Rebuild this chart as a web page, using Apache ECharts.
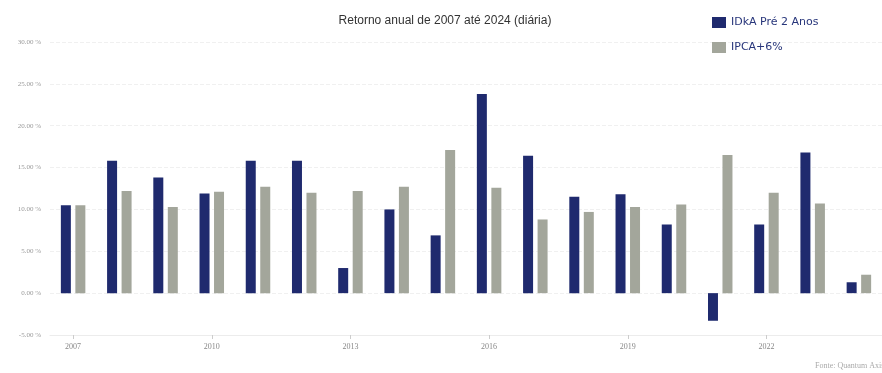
<!DOCTYPE html>
<html>
<head>
<meta charset="utf-8">
<script src="https://cdn.jsdelivr.net/npm/echarts@6/dist/echarts.min.js"></script>
<style>
  html, body { margin: 0; padding: 0; background: #fff; }
  #chart { width: 882px; height: 373px; }
</style>
</head>
<body>
<div id="chart"></div>
<script>
const years = ['2007', '2008', '2009', '2010', '2011', '2012', '2013', '2014', '2015',
  '2016', '2017', '2018', '2019', '2020', '2021', '2022', '2023', '2024']
const idka = [10.5, 15.8, 13.8, 11.9, 15.8, 15.8, 3.0, 10.0, 6.9,
  23.8, 16.4, 11.5, 11.8, 8.2, -3.3, 8.2, 16.8, 1.3]
const ipca = [10.5, 12.2, 10.3, 12.1, 12.7, 12.0, 12.2, 12.7, 17.1,
  12.6, 8.8, 9.7, 10.3, 10.6, 16.5, 12.0, 10.7, 2.2]

const chart = echarts.init(document.getElementById('chart'))

chart.setOption({
  animation: false,
  backgroundColor: '#fff',
  title: {
    text: 'Retorno anual de 2007 até 2024 (diária)',
    left: 440,
    top: 10,
    textAlign: 'center',
    textStyle: { fontSize: 12, fontWeight: 'normal', color: '#333', fontFamily: 'Liberation Sans' }
  },
  legend: {
    orient: 'vertical',
    left: 707,
    top: 12,
    itemWidth: 14,
    itemHeight: 11,
    itemGap: 14,
    icon: 'rect',
    textStyle: { fontSize: 11, color: '#27357a', fontFamily: 'DejaVu Sans' },
    data: ['IDkA Pré 2 Anos', 'IPCA+6%']
  },
  grid: { left: 50, right: -9, top: 42, bottom: 38 },
  xAxis: {
    type: 'category',
    data: years,
    axisLine: { onZero: false, lineStyle: { color: '#ececec' } },
    axisTick: { show: true, interval: 2, alignWithLabel: true, length: 4, lineStyle: { color: '#ccc' } },
    axisLabel: { interval: 2, fontSize: 8, color: '#888', margin: 8, fontFamily: 'Liberation Serif' }
  },
  yAxis: {
    type: 'value',
    min: -5,
    max: 30,
    interval: 5,
    axisLine: { show: false },
    axisTick: { show: false },
    axisLabel: {
      fontSize: 7,
      color: '#999',
      margin: 9,
      fontFamily: 'Liberation Serif',
      formatter: v => v.toFixed(2) + ' %'
    },
    splitLine: { lineStyle: { color: '#f0f0f0', type: 'dashed' } }
  },
  series: [
    {
      name: 'IDkA Pré 2 Anos',
      type: 'bar',
      data: idka,
      barWidth: 10,
      barGap: '45%',
      itemStyle: { color: '#1f2a6e' }
    },
    {
      name: 'IPCA+6%',
      type: 'bar',
      data: ipca,
      barWidth: 10,
      itemStyle: { color: '#a3a69b' }
    }
  ],
  graphic: [{
    type: 'text',
    left: 815,
    top: 362,
    style: { text: 'Fonte: Quantum Axis', fontSize: 8, fill: '#aaa', fontFamily: 'Liberation Serif' }
  }]
})
</script>
</body>
</html>
